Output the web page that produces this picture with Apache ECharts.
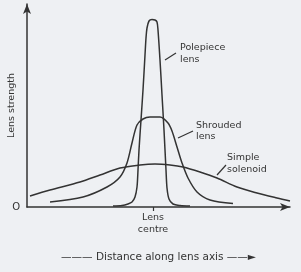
<!DOCTYPE html>
<html><head><meta charset="utf-8">
<script src="https://cdn.jsdelivr.net/npm/echarts@6/dist/echarts.min.js"></script>
<style>html,body{margin:0;padding:0;background:#eef0f3}#c{width:301px;height:272px}</style>
</head><body><div id="c"></div>
<script>
// x: distance along lens axis (lens centre = 0), y: lens strength (arbitrary units)
const polepieceX = [-4.0,-3.1,-2.5,-2.1,-1.8,-1.6,-1.5,-1.4,-1.2,-1.0,-0.8,-0.7,-0.6,-0.4,-0.1,0.2,0.4,0.5,0.7,0.9,1.1,1.3,1.4,1.6,2.0,2.7,3.7];
const polepieceY = [0.5,0.75,1.5,2.5,5,10,18.5,28.5,43.5,58.5,76,84.5,89.5,93,93.75,93.5,92.5,88.5,73.5,56,38.5,18.5,9.5,4,1.5,0.75,0.5];
const shroudedX = [-10.3,-7.0,-4.6,-3.3,-2.6,-2.1,-1.6,-1.0,-0.3,0.7,1.5,1.9,2.4,2.9,3.5,4.4,5.7,8.0];
const shroudedY = [2.5,5,10,15,22,32,41,44,45,45,42,38,30,22,14.5,7.5,3.5,1.75];
const solenoidX = [-12.3,-10.3,-7.3,-5.3,-3.3,-1.3,0.2,1.7,3.0,4.7,6.4,8.4,10.4,12.4,13.7];
const solenoidY = [5.5,8.5,12.5,16,19.5,21,21.5,21,20,17.5,14.5,10,7,4.5,3];
const seriesNames = ['Polepiece\nlens','Shrouded\nlens','Simple\nsolenoid'];
const leaders = [[[1.2,73.5],[2.3,77]],[[2.5,34.5],[4.0,38]],[[6.4,16],[7.3,21]]];
const xTickLabel = 'Lens\ncentre';
const yTickLabel = 'O';
const xName = '——— Distance along lens axis ——►';
const yName = 'Lens strength';

const FONT = 'DejaVu Sans';
const INK = '#333';
const zip = (a,b) => a.map((v,i)=>[v,b[i]]);
const chart = echarts.init(document.getElementById('c'));
const mk = (name, xs, ys, leader) => ({
  name, type:'line', data: zip(xs,ys), showSymbol:false, smooth:0.3,
  lineStyle:{color:INK,width:1.5}, animation:false, clip:true,
  markLine:{silent:true, symbol:['none','none'], label:{show:false},
    lineStyle:{color:INK,width:1.2,type:'solid'}, data:[[{coord:leader[0]},{coord:leader[1]}]]}
});
chart.setOption({
  backgroundColor:'#eef0f3',
  animation:false,
  grid:{left:27,right:11,top:4,bottom:65,containLabel:false,outerBoundsMode:'none'},
  xAxis:{type:'value',min:-12.6,max:13.7,
    axisLine:{onZero:false,lineStyle:{color:INK,width:1.5},symbol:['none','arrow'],symbolSize:[6,10]},
    axisTick:{show:true,customValues:[0],length:4,lineStyle:{color:INK,width:1.2}},
    axisLabel:{customValues:[0],formatter:()=>xTickLabel,color:INK,fontFamily:FONT,fontSize:9.5,lineHeight:12,margin:5},
    splitLine:{show:false},
    name:xName,nameLocation:'middle',nameGap:45,nameMoveOverlap:false,nameTextStyle:{color:INK,fontFamily:FONT,fontSize:10.5}
  },
  yAxis:{type:'value',min:0,max:101.5,
    axisLine:{show:true,onZero:false,lineStyle:{color:INK,width:1.5},symbol:['none','arrow'],symbolSize:[6,10]},
    axisTick:{show:false},
    axisLabel:{customValues:[0],formatter:()=>yTickLabel,color:INK,fontFamily:FONT,fontSize:10,margin:7},
    splitLine:{show:false},
    name:yName,nameLocation:'middle',nameGap:10,nameMoveOverlap:false,nameRotate:90,nameTextStyle:{color:INK,fontFamily:FONT,fontSize:9.5}
  },
  series:[
    mk(seriesNames[0],polepieceX,polepieceY,leaders[0]),
    mk(seriesNames[1],shroudedX,shroudedY,leaders[1]),
    mk(seriesNames[2],solenoidX,solenoidY,leaders[2])
  ],
  graphic:[
    {type:'text',left:180,top:42,style:{text:seriesNames[0],fill:INK,font:'9.5px "DejaVu Sans"',lineHeight:12}},
    {type:'text',left:196,top:120,style:{text:seriesNames[1],fill:INK,font:'9.5px "DejaVu Sans"',lineHeight:11}},
    {type:'text',left:227,top:152,style:{text:seriesNames[2],fill:INK,font:'9.5px "DejaVu Sans"',lineHeight:12}}
  ]
});
</script></body></html>
